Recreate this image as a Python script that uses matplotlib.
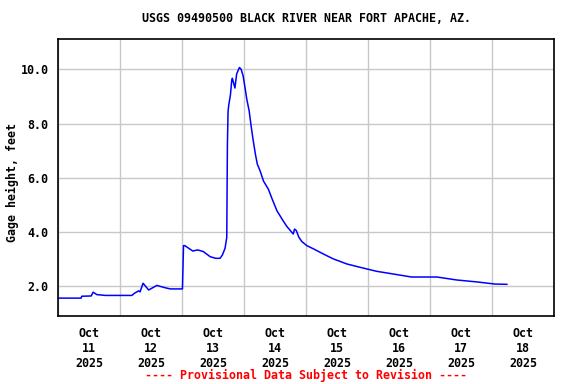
import pandas as pd
import matplotlib
matplotlib.use("Agg")
import matplotlib.pyplot as plt
import matplotlib.dates as mdates

# ----------------------------------------------
# 1. Gage height readings
# ----------------------------------------------

times = [
    "2025-10-11 00:00", "2025-10-11 08:50", "2025-10-11 09:05", "2025-10-11 12:45",
    "2025-10-11 13:30", "2025-10-11 14:55", "2025-10-11 18:15", "2025-10-12 04:30",
    "2025-10-12 05:30", "2025-10-12 07:10", "2025-10-12 07:40", "2025-10-12 08:50",
    "2025-10-12 11:00", "2025-10-12 14:10", "2025-10-12 17:30", "2025-10-12 19:25",
    "2025-10-13 00:05", "2025-10-13 00:15", "2025-10-13 00:30", "2025-10-13 01:00",
    "2025-10-13 04:05", "2025-10-13 06:00", "2025-10-13 08:10", "2025-10-13 10:50",
    "2025-10-13 13:00", "2025-10-13 14:40", "2025-10-13 15:35", "2025-10-13 16:35",
    "2025-10-13 17:15", "2025-10-13 17:30", "2025-10-13 17:45", "2025-10-13 18:05",
    "2025-10-13 18:40", "2025-10-13 19:10", "2025-10-13 19:25", "2025-10-13 20:25",
    "2025-10-13 21:05", "2025-10-13 21:50", "2025-10-13 22:10", "2025-10-13 22:50",
    "2025-10-13 23:35", "2025-10-14 00:25", "2025-10-14 01:00", "2025-10-14 01:55",
    "2025-10-14 02:40", "2025-10-14 03:25", "2025-10-14 04:20", "2025-10-14 05:05",
    "2025-10-14 06:10", "2025-10-14 07:30", "2025-10-14 09:20", "2025-10-14 10:50",
    "2025-10-14 12:40", "2025-10-14 14:40", "2025-10-14 16:30", "2025-10-14 17:50",
    "2025-10-14 19:00", "2025-10-14 19:30", "2025-10-14 20:10", "2025-10-14 21:10",
    "2025-10-14 22:20", "2025-10-15 00:15", "2025-10-15 02:50", "2025-10-15 06:40",
    "2025-10-15 10:30", "2025-10-15 15:50", "2025-10-15 20:50", "2025-10-16 03:20",
    "2025-10-16 09:50", "2025-10-16 16:50", "2025-10-17 02:40", "2025-10-17 10:20",
    "2025-10-17 18:00", "2025-10-18 01:10", "2025-10-18 05:45",
]

gage_ft = [
    1.55, 1.55, 1.62, 1.63,
    1.77, 1.68, 1.65, 1.65,
    1.73, 1.82, 1.78, 2.10,
    1.85, 2.02, 1.93, 1.89,
    1.89, 2.53, 3.49, 3.49,
    3.29, 3.33, 3.27, 3.08,
    3.02, 3.02, 3.15, 3.39,
    3.79, 7.20, 8.45, 8.72,
    9.05, 9.58, 9.67, 9.31,
    9.83, 10.00, 10.07, 10.00,
    9.76, 9.27, 8.90, 8.47,
    7.92, 7.42, 6.87, 6.50,
    6.25, 5.87, 5.58, 5.21,
    4.78, 4.47, 4.20, 4.05,
    3.92, 4.10, 4.05, 3.80,
    3.64, 3.49, 3.37, 3.18,
    3.00, 2.81, 2.69, 2.54,
    2.44, 2.33, 2.33, 2.22,
    2.15, 2.07, 2.06,
]

y_ticks = [2.0, 4.0, 6.0, 8.0, 10.0]
day_labels = ["Oct\n11\n2025", "Oct\n12\n2025", "Oct\n13\n2025", "Oct\n14\n2025",
              "Oct\n15\n2025", "Oct\n16\n2025", "Oct\n17\n2025", "Oct\n18\n2025"]

title = "USGS 09490500 BLACK RIVER NEAR FORT APACHE, AZ."
footer = "---- Provisional Data Subject to Revision ----"

# ----------------------------------------------
# 2. Plot
# ----------------------------------------------

FONT = dict(family="DejaVu Sans Mono", weight="bold", size=8.4)

t = pd.to_datetime(times)
start = pd.Timestamp("2025-10-11")
end = pd.Timestamp("2025-10-19")

fig = plt.figure(figsize=(5.76, 3.84), dpi=100)
ax = fig.add_axes([58.3 / 576, (384 - 316) / 384, (554 - 58.3) / 576, (316 - 39.3) / 384])

ax.plot(t, gage_ft, color="#0000ff", linewidth=1.1)

ax.set_xlim(start, end)
ax.set_ylim(0.89, 11.11)

# gridlines at midnight, labels at noon
midnights = pd.date_range(start, end, freq="D")
noons = midnights[:-1] + pd.Timedelta(hours=12)
ax.set_xticks(mdates.date2num(midnights))
ax.set_xticklabels([])
ax.set_xticks(mdates.date2num(noons), minor=True)
ax.set_xticklabels(day_labels, minor=True, **FONT)
ax.tick_params(axis="x", which="both", length=0, pad=8)

ax.set_yticks(y_ticks)
ax.set_yticklabels([f"{v:.1f}" for v in y_ticks], **FONT)
ax.tick_params(axis="y", length=0, pad=7)

ax.grid(True, which="major", color="#c8c8c8", linewidth=1.0)
ax.set_axisbelow(True)
for s in ax.spines.values():
    s.set_linewidth(1.2)
    s.set_color("black")

mid_x = (58.3 + 554) / 2 / 576
fig.text(12 / 576, 1 - 183 / 384, "Gage height, feet", rotation=90,
         ha="center", va="center", **FONT)
fig.text(mid_x, 1 - 19 / 384, title, ha="center", va="center", **FONT)
fig.text(mid_x, 1 - 375 / 384, footer, ha="center", va="center", color="red", **FONT)

fig.savefig("out.png", dpi=100)
plt.close(fig)
